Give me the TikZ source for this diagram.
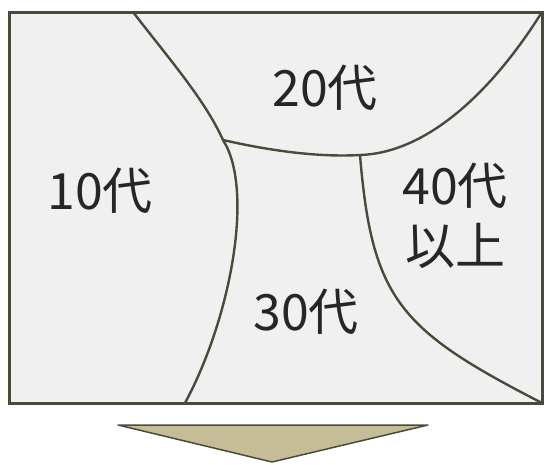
\documentclass[tikz,border=0pt]{standalone}
\usepackage{fontspec}
\newfontfamily\jpfont{Noto Sans CJK JP}
\usetikzlibrary{positioning}
\definecolor{paneFill}{HTML}{F0F0F0}
\definecolor{paneLine}{HTML}{4A4A3C}
\definecolor{arrowFill}{HTML}{C4BD97}

\begin{document}
\begin{tikzpicture}[
    x=1pt, y=-1pt,
    pane/.style={draw=paneLine, line width=3pt, fill=paneFill},
    border/.style={draw=paneLine, line width=2.4pt},
    lbl/.style={font=\jpfont\fontsize{50}{60}\selectfont, align=center, text=black!85},
    arrowtri/.style={draw=paneLine, line width=1.5pt, fill=arrowFill, line join=round},
]
\useasboundingbox (0,0) rectangle (547,464);
% Frame
\draw[pane] (9,12) rectangle (542,403);
\coordinate (j) at (223,140);
\coordinate (k) at (360,155);
% Borders
\draw[border] (133,12) .. controls (170,60) and (205,100) .. (j)
    .. controls (255,190) and (230,320) .. (185,403);
\draw[border] (j) .. controls (280,153) and (325,157) .. (k)
    .. controls (425,153) and (490,95) .. (542,12);
\draw[border] (k) .. controls (372,300) and (400,330) .. (542,403);
% Labels
\node[lbl] (twenties) at (325,88) {20代};
\node[lbl] (teens) at (100,191) {10代};
\node[lbl] (thirties) at (306,312) {30代};
\node[lbl] (forties) at (455,216) {40代\\以上};
% Arrow
\draw[arrowtri] (118,425) -- (428,425) -- (272,462) -- cycle;
\end{tikzpicture}
\end{document}
